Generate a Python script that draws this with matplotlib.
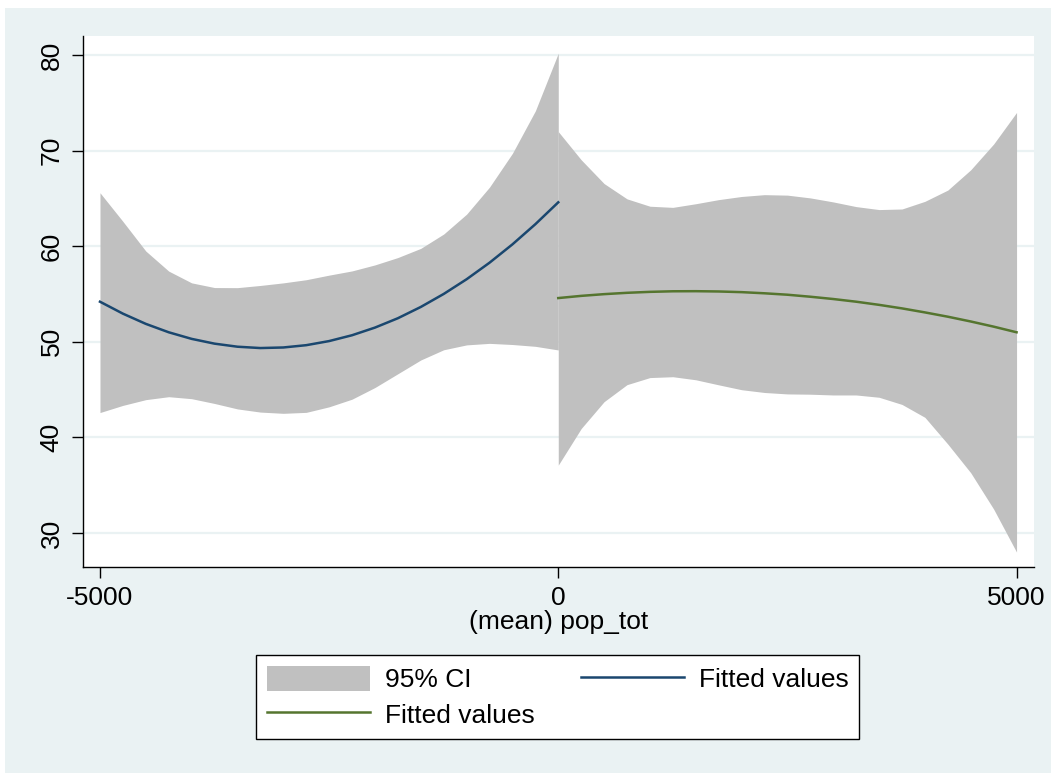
import matplotlib
matplotlib.use("Agg")
import matplotlib.pyplot as plt
from matplotlib.patches import Rectangle, Patch
from matplotlib.lines import Line2D

plt.rcParams["font.family"] = ["Liberation Sans", "DejaVu Sans"]
plt.rcParams["axes.unicode_minus"] = False

# quadratic fit below the cutoff (pop_tot < 0)
x_left = [-5000, -4750, -4500, -4250, -4000, -3750, -3500, -3250, -3000, -2750, -2500,
          -2250, -2000, -1750, -1500, -1250, -1000, -750, -500, -250, 0]
fit_left = [54.2, 52.95, 51.88, 51.0, 50.31, 49.81, 49.49, 49.35, 49.41, 49.65, 50.08,
            50.69, 51.49, 52.47, 53.65, 55.01, 56.55, 58.28, 60.2, 62.31, 64.6]
ci_hi_left = [65.6, 62.6, 59.5, 57.4, 56.17, 55.68, 55.67, 55.9, 56.17, 56.5, 56.98,
              57.42, 58.05, 58.82, 59.78, 61.28, 63.36, 66.19, 69.73, 74.17, 80.2]
ci_lo_left = [42.6, 43.35, 43.95, 44.26, 44.05, 43.55, 42.98, 42.65, 42.52, 42.62, 43.2,
              44.0, 45.22, 46.66, 48.1, 49.17, 49.68, 49.84, 49.72, 49.53, 49.15]

# quadratic fit above the cutoff (pop_tot >= 0)
x_right = [0, 250, 500, 750, 1000, 1250, 1500, 1750, 2000, 2250, 2500,
           2750, 3000, 3250, 3500, 3750, 4000, 4250, 4500, 4750, 5000]
fit_right = [54.58, 54.81, 54.99, 55.13, 55.23, 55.29, 55.3, 55.27, 55.2, 55.08, 54.93,
             54.72, 54.48, 54.2, 53.87, 53.5, 53.08, 52.63, 52.13, 51.59, 51.0]
ci_hi_right = [72.0, 69.05, 66.56, 64.96, 64.19, 64.07, 64.45, 64.88, 65.21, 65.4, 65.35,
               65.06, 64.64, 64.15, 63.84, 63.9, 64.7, 65.88, 68.0, 70.7, 74.0]
ci_lo_right = [37.1, 40.93, 43.74, 45.52, 46.26, 46.35, 46.03, 45.5, 44.99, 44.7, 44.55,
               44.52, 44.44, 44.44, 44.2, 43.45, 42.1, 39.3, 36.3, 32.5, 28.0]

x_ticks = [-5000, 0, 5000]
y_ticks = [30, 40, 50, 60, 70, 80]

BG = "#EAF2F3"
CI_GRAY = "#C0C0C0"
NAVY = "#1A476F"
GREEN = "#55752F"
FS = 19

fig = plt.figure(figsize=(10.51, 7.73), dpi=100)
fig.patch.set_facecolor("white")
fig.patches.append(Rectangle((5 / 1051, 0), 1, 1 - 8 / 773, transform=fig.transFigure,
                             facecolor=BG, edgecolor="none", zorder=-10))

ax = fig.add_axes([0.079, 0.2665, 0.9048, 0.6869])
ax.set_facecolor("white")

ax.fill_between(x_left, ci_lo_left, ci_hi_left, color=CI_GRAY, lw=0, zorder=2)
ax.fill_between(x_right, ci_lo_right, ci_hi_right, color=CI_GRAY, lw=0, zorder=2)
ax.plot(x_left, fit_left, color=NAVY, lw=1.8, zorder=3)
ax.plot(x_right, fit_right, color=GREEN, lw=1.8, zorder=3)

ax.set_xlim(-5185, 5190)
ax.set_ylim(26.44, 82.0)
ax.set_xticks(x_ticks)
ax.set_yticks(y_ticks)
ax.set_yticklabels([str(v) for v in y_ticks], rotation=90, va="center")

ax.yaxis.grid(True, color=BG, lw=1.6, zorder=0)
ax.set_axisbelow(True)

for side in ("top", "right"):
    ax.spines[side].set_visible(False)
for side in ("left", "bottom"):
    ax.spines[side].set_color("black")
    ax.spines[side].set_linewidth(1.0)

ax.tick_params(axis="both", length=8, width=1.0, color="black",
               labelsize=FS, labelcolor="black")
ax.tick_params(axis="y", pad=6)
ax.tick_params(axis="x", pad=6)

ax.set_xlabel("(mean) pop_tot", fontsize=FS, labelpad=0)

handles = [Patch(facecolor=CI_GRAY, edgecolor="none"),
           Line2D([], [], color=GREEN, lw=1.8),
           Line2D([], [], color=NAVY, lw=1.8)]
labels = ["95% CI", "Fitted values", "Fitted values"]
leg = fig.legend(handles, labels, ncol=2, loc="center",
                 bbox_to_anchor=(0.5305, 0.0983), bbox_transform=fig.transFigure,
                 fontsize=FS, frameon=True, fancybox=False, framealpha=1,
                 edgecolor="black", handlelength=3.9, handleheight=1.05,
                 handletextpad=0.57, columnspacing=1.75, borderpad=0.42,
                 labelspacing=0.35, borderaxespad=0)
leg.get_frame().set_linewidth(1.0)

fig.savefig("out.png", dpi=100, facecolor=fig.get_facecolor())
